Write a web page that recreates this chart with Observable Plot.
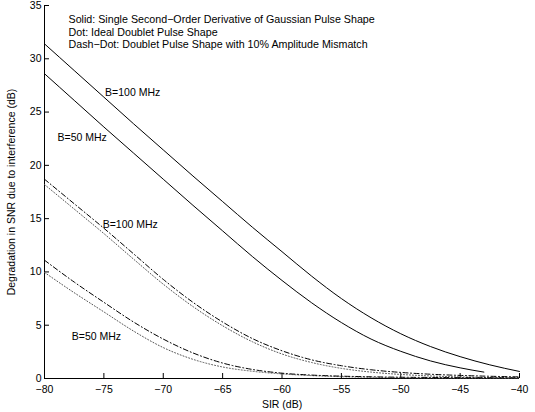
<!DOCTYPE html>
<html>
<head>
<meta charset="utf-8">
<script src="https://cdn.jsdelivr.net/npm/d3@7"></script>
<script src="https://cdn.jsdelivr.net/npm/@observablehq/plot@0.6"></script>
<style>
  html, body { margin: 0; padding: 0; background: #fff; }
  #chart svg { display: block; }
</style>
</head>
<body>
<div id="chart"></div>
<script>
// SIR values (dB)
const sir = [-80, -77.5, -75, -72.5, -70, -67.5, -65, -62.5, -60, -57.5, -55, -52.5, -50, -47.5, -45, -42.5, -40];
// Solid: single second-order derivative of Gaussian pulse
const solid100 = [31.4, 28.9, 26.4, 23.9, 21.45, 19.0, 16.6, 14.2, 11.9, 9.6, 7.5, 5.7, 4.2, 3.0, 2.05, 1.28, 0.66];
const sirSolid50 = [-80, -77.5, -75, -72.5, -70, -67.5, -65, -62.5, -60, -57.5, -55, -52.5, -50, -47.5, -45, -43];
const solid50 = [28.6, 26.1, 23.6, 21.15, 18.7, 16.25, 13.85, 11.45, 9.2, 7.1, 5.25, 3.7, 2.55, 1.65, 1.0, 0.6];
// Dash-dot: doublet with 10% amplitude mismatch
const dashdot100 = [18.7, 16.4, 14.1, 11.7, 9.3, 7.15, 5.3, 3.75, 2.6, 1.75, 1.2, 0.82, 0.57, 0.4, 0.29, 0.21, 0.15];
const dashdot50 = [11.1, 9.05, 7.15, 5.3, 3.7, 2.4, 1.45, 0.85, 0.5, 0.32, 0.22, 0.16, 0.12, 0.1, 0.08, 0.07, 0.06];
// Dot: ideal doublet
const dot100 = [18.2, 15.9, 13.6, 11.2, 8.85, 6.75, 4.95, 3.45, 2.3, 1.5, 0.95, 0.6, 0.38, 0.24, 0.15, 0.09, 0.05];
const dot50 = [9.95, 8.05, 6.25, 4.45, 2.9, 1.8, 1.08, 0.68, 0.43, 0.27, 0.17, 0.11, 0.07, 0.05, 0.03, 0.02, 0.01];

// Ticks
const xTicks = [-80, -75, -70, -65, -60, -55, -50, -45, -40];
const yTicks = [0, 5, 10, 15, 20, 25, 30, 35];

// Curve labels
const labelText = ["B=100 MHz", "B=50 MHz", "B=100 MHz", "B=50 MHz"];
const labelX = [-74.9, -78.9, -75.1, -77.7];
const labelY = [26.8, 22.6, 14.4, 3.9];

// Legend notes
const notes = [
  "Solid: Single Second\u2212Order Derivative of Gaussian Pulse Shape",
  "Dot: Ideal Doublet Pulse Shape",
  "Dash\u2212Dot: Doublet Pulse Shape with 10% Amplitude Mismatch"
];

const toRows = (xs, ys) => xs.map((x, i) => ({x, y: ys[i]}));
const labels = labelText.map((t, i) => ({t, x: labelX[i], y: labelY[i]}));

const font = "Liberation Sans, Arial, Helvetica, sans-serif";
const fs = 10.5;
const curve = "monotone-x";

const chart = Plot.plot({
  width: 535,
  height: 412,
  marginLeft: 44,
  marginRight: 16,
  marginTop: 5,
  marginBottom: 34,
  style: {fontFamily: font, fontSize: fs + "px", background: "#fff", color: "#000"},
  x: {domain: [-80, -40]},
  y: {domain: [0, 35]},
  marks: [
    Plot.axisX({ticks: xTicks, tickSize: -5, tickPadding: 12, tickFormat: d => d < 0 ? "\u2212" + Math.abs(d) : String(d),
      label: "SIR (dB)", labelAnchor: "center", labelOffset: 29, labelArrow: "none", fontSize: fs}),
    Plot.axisY({ticks: yTicks, tickSize: -5, tickPadding: 8,
      label: "Degradation in SNR due to interference (dB)", labelAnchor: "center", labelOffset: 37, labelArrow: "none", fontSize: fs}),
    Plot.ruleY([0], {stroke: "#000"}),
    Plot.ruleX([-80], {stroke: "#000"}),
    Plot.line(toRows(sir, solid100), {x: "x", y: "y", stroke: "#000", strokeWidth: 1, curve}),
    Plot.line(toRows(sirSolid50, solid50), {x: "x", y: "y", stroke: "#000", strokeWidth: 1, curve}),
    Plot.line(toRows(sir, dot100), {x: "x", y: "y", stroke: "#555", strokeWidth: 1, strokeDasharray: "1,2", curve}),
    Plot.line(toRows(sir, dot50), {x: "x", y: "y", stroke: "#555", strokeWidth: 1, strokeDasharray: "1,2", curve}),
    Plot.line(toRows(sir, dashdot100), {x: "x", y: "y", stroke: "#000", strokeWidth: 1, strokeDasharray: "5,2.5,1,2.5", curve}),
    Plot.line(toRows(sir, dashdot50), {x: "x", y: "y", stroke: "#000", strokeWidth: 1, strokeDasharray: "5,2.5,1,2.5", curve}),
    Plot.text(labels, {x: "x", y: "y", text: "t", textAnchor: "start", fontSize: fs, fill: "#000"}),
    Plot.text([notes.join("\n")], {frameAnchor: "top-left", dx: 24, dy: 9, textAnchor: "start", lineAnchor: "top", lineHeight: 1.15, fontSize: 10.7, fill: "#000"})
  ]
});
document.getElementById("chart").appendChild(chart);
</script>
</body>
</html>
